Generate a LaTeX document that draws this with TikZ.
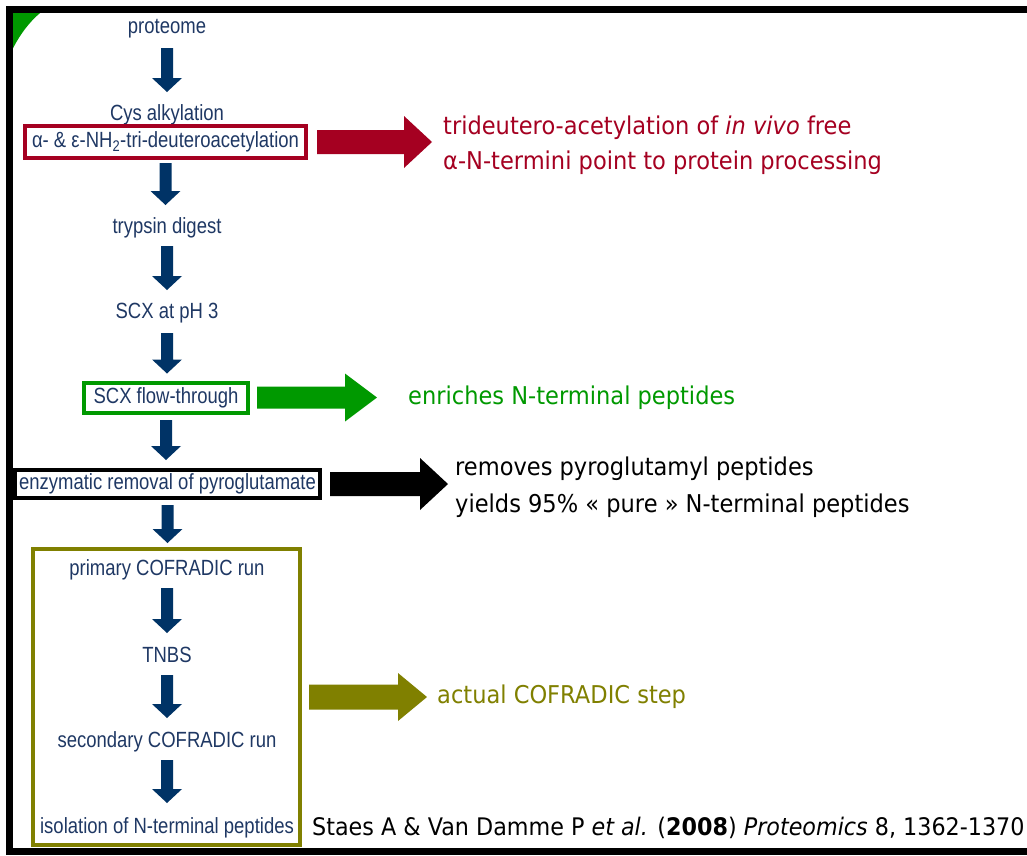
\documentclass[tikz,border=0pt]{standalone}
\usepackage{fontspec}
\setmainfont{Liberation Sans}
\newfontfamily\flowfont{Liberation Sans}[FakeStretch=0.84]
\newfontfamily\sidefont{DejaVu Sans}[FakeStretch=0.92]
\usetikzlibrary{calc}
\definecolor{arrowblue}{RGB}{0,51,102}
\definecolor{flowtextc}{RGB}{31,56,100}
\definecolor{boxred}{RGB}{165,0,33}
\definecolor{boxgreen}{RGB}{0,153,0}
\definecolor{boxolive}{RGB}{128,128,0}
% vertical block arrow: #1 from, #2 to, #3 start gap, #4 end gap
\newcommand\flowarr[4]{\fill[arrowblue] let \p1=(#1), \p2=(#2) in
  (\x1-6pt,\y1-#3) -- (\x1+6pt,\y1-#3) -- (\x1+6pt,\y2+#4+14pt) -- (\x1+15pt,\y2+#4+14pt)
  -- (\x1,\y2+#4) -- (\x1-15pt,\y2+#4+14pt) -- (\x1-6pt,\y2+#4+14pt) -- cycle;}
% horizontal block arrow: #1 colour, #2 from, #3 to, #4 shaft half, #5 head half, #6 head length, #7 start gap, #8 end gap
\newcommand\sidearr[8]{\fill[#1] let \p1=(#2), \p2=(#3) in
  (\x1+#7,\y1+#4) -- (\x2-#8-#6,\y1+#4) -- (\x2-#8-#6,\y1+#5) -- (\x2-#8,\y1)
  -- (\x2-#8-#6,\y1-#5) -- (\x2-#8-#6,\y1-#4) -- (\x1+#7,\y1-#4) -- cycle;}
\begin{document}
\begin{tikzpicture}[x=1pt,y=-1pt,
  flowtext/.style={font=\flowfont\fontsize{22}{26}\selectfont, text=flowtextc, inner sep=0pt},
  stepbox/.style={flowtext, line width=4pt, fill=white},
  sidetext/.style={font=\sidefont\fontsize{24.5}{35}\selectfont, inner sep=0pt, anchor=west, align=left}]
\useasboundingbox (0,0) rectangle (1027,855);
\fill[white] (0,0) rectangle (1027,855);
% corner decoration
\fill[boxgreen] (10,10) -- (44,10) .. controls (30,20) and (17,38) .. (10,55) -- cycle;
% frame
\draw[line width=7pt] (1027,9.5) -- (9.5,9.5) -- (9.5,851.5) -- (1027,851.5);
% flow nodes
\node[flowtext] (proteome) at (167,29) {proteome};
\node[flowtext] (cys) at (167,115) {Cys alkylation};
\node[stepbox, draw=boxred, minimum width=281pt, minimum height=32pt] (deut) at (165.5,142) {α- \& ε-NH\textsubscript{2}-tri-deuteroacetylation};
\node[flowtext] (tryp) at (167,228) {trypsin digest};
\node[flowtext] (scx) at (167,313) {SCX at pH 3};
\node[stepbox, draw=boxgreen, minimum width=164pt, minimum height=30pt] (flow) at (166,397.5) {SCX flow-through};
\node[stepbox, draw=black, minimum width=305pt, minimum height=28pt] (enz) at (167.5,484) {enzymatic removal of pyroglutamate};
\node[stepbox, draw=boxolive, minimum width=267pt, minimum height=296pt] (cof) at (166.5,697) {};
\node[flowtext] (prim) at (167,570) {primary COFRADIC run};
\node[flowtext] (tnbs) at (167,655) {TNBS};
\node[flowtext] (sec) at (167,742) {secondary COFRADIC run};
\node[flowtext] (iso) at (167,828) {isolation of N-terminal peptides};
% flow arrows
\flowarr{proteome.center}{cys.center}{19pt}{23pt}
\flowarr{deut.south}{tryp.center}{3pt}{23pt}
\flowarr{tryp.center}{scx.center}{18pt}{23pt}
\flowarr{scx.center}{flow.north}{20pt}{7pt}
\flowarr{flow.south}{enz.north}{5.5pt}{8pt}
\flowarr{enz.south}{cof.north}{5pt}{4pt}
\flowarr{prim.center}{tnbs.center}{18pt}{22pt}
\flowarr{tnbs.center}{sec.center}{20pt}{24pt}
\flowarr{sec.center}{iso.center}{18pt}{25pt}
% side texts
\node[sidetext, text=boxred] (redtxt) at (443,145) {trideutero-acetylation of \textit{in vivo} free\\α-N-termini point to protein processing};
\node[sidetext, text=boxgreen] (greentxt) at (408,398) {enriches N-terminal peptides};
\node[sidetext, text=black, font=\sidefont\fontsize{24.5}{37}\selectfont] (blacktxt) at (455,487.5) {removes pyroglutamyl peptides\\yields 95\% « pure » N-terminal peptides};
\node[sidetext, text=boxolive] (olivetxt) at (437,697) {actual COFRADIC step};
\node[sidetext, text=black, font=\sidefont\fontsize{24.2}{26}\selectfont] (cite) at (312,828) {Staes A \& Van Damme P \textit{et al.} (\textbf{2008}) \textit{Proteomics} 8, 1362-1370};
% side arrows
\sidearr{boxred}{deut.east}{redtxt.west}{12pt}{26pt}{28pt}{9pt}{11pt}
\sidearr{boxgreen}{flow.east}{greentxt.west}{11pt}{24pt}{32pt}{7pt}{31pt}
\sidearr{black}{enz.east}{blacktxt.west}{12pt}{26pt}{28pt}{8pt}{7pt}
\sidearr{boxolive}{cof.east}{olivetxt.west}{12.5pt}{24pt}{29pt}{7pt}{10pt}
\end{tikzpicture}
\end{document}
